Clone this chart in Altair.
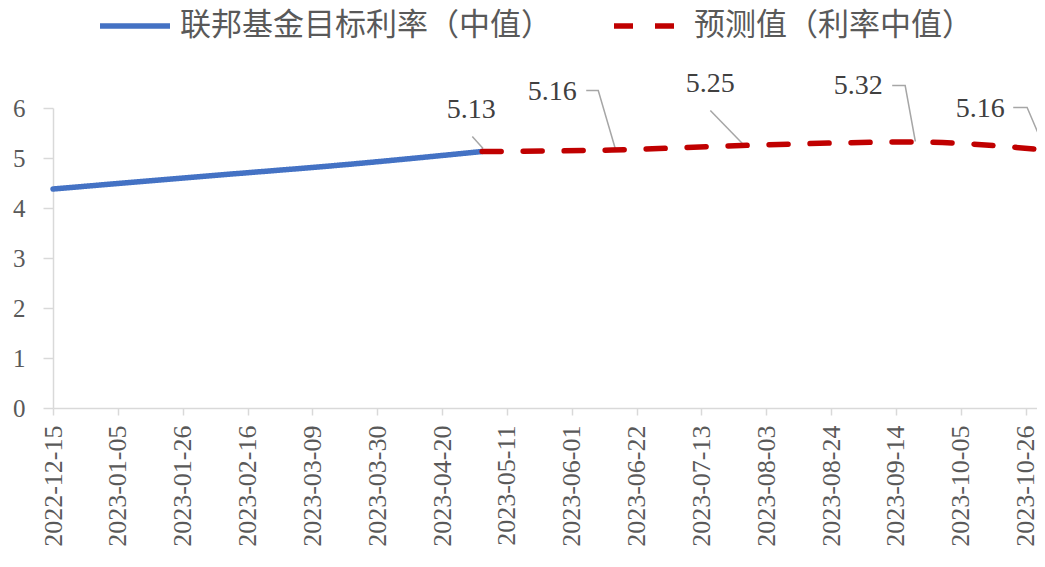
import altair as alt
import pandas as pd

# ---------------- data ----------------
series_names = ["联邦基金目标利率（中值）", "预测值（利率中值）"]

actual_dates = ["2022-12-15", "2023-02-01", "2023-03-22", "2023-05-03"]
actual_vals = [4.38, 4.63, 4.88, 5.13]

forecast_dates = ["2023-05-03", "2023-06-14", "2023-07-26", "2023-09-20", "2023-11-01"]
forecast_vals = [5.13, 5.16, 5.25, 5.32, 5.16]

tick_dates = ["2022-12-15", "2023-01-05", "2023-01-26", "2023-02-16", "2023-03-09",
              "2023-03-30", "2023-04-20", "2023-05-11", "2023-06-01", "2023-06-22",
              "2023-07-13", "2023-08-03", "2023-08-24", "2023-09-14", "2023-10-05",
              "2023-10-26"]
y_ticks = [0, 1, 2, 3, 4, 5, 6]
x_start = "2022-12-15"
x_span_days = 318.7   # visible part of the axis (the chart is cut at the right edge)

label_texts = ["5.13", "5.16", "5.25", "5.32", "5.16"]

# annotation anchors (days after x_start, value)
label_days = [135.5, 161.7, 212.9, 260.8, 300.3]
label_vals = [5.97, 6.33, 6.49, 6.45, 5.99]
leader_paths = [
    [(135.8, 5.43), (139.3, 5.19)],
    [(172.7, 6.35), (176.6, 6.35), (182.1, 5.19)],
    [(212.9, 5.95), (223.6, 5.27)],
    [(271.8, 6.45), (276.0, 6.45), (279.3, 5.33)],
    [(311.0, 6.01), (315.5, 6.01), (321.3, 5.17)],
]

# ---------------- helpers ----------------
DAY = 86400000


def ms(s):
    return int(pd.Timestamp(s, tz="UTC").timestamp() * 1000)


base = ms(x_start)

rows = []
for i, (d, v) in enumerate(zip(actual_dates, actual_vals)):
    rows.append({"t": ms(d), "v": v, "s": series_names[0], "o": i})
for i, (d, v) in enumerate(zip(forecast_dates, forecast_vals)):
    rows.append({"t": ms(d), "v": v, "s": series_names[1], "o": i})
line_df = pd.DataFrame(rows)

lab_df = pd.DataFrame({
    "t": [base + d * DAY for d in label_days],
    "v": label_vals,
    "txt": label_texts,
})

lead_rows = []
for g, path in enumerate(leader_paths):
    for o, (d, v) in enumerate(path):
        lead_rows.append({"t": base + d * DAY, "v": v, "g": g, "o": o})
lead_df = pd.DataFrame(lead_rows)

# ---------------- encodings ----------------
x_enc = alt.X(
    "t:T",
    title=None,
    scale=alt.Scale(type="utc", domain=[base, base + x_span_days * DAY]),
    axis=alt.Axis(
        values=[ms(d) for d in tick_dates],
        format="%Y-%m-%d",
        labelAngle=270,
        labelFontSize=26,
        labelPadding=10,
        tickSize=7,
        grid=False,
        labelOverlap=False,
    ),
)
y_enc = alt.Y(
    "v:Q",
    title=None,
    scale=alt.Scale(domain=[0, 6], nice=False, zero=True),
    axis=alt.Axis(
        values=y_ticks,
        labelFontSize=25,
        labelPadding=18,
        tickSize=10,
        grid=False,
    ),
)

legend = alt.Legend(
    title=None,
    orient="none",
    legendX=44,
    legendY=-120,
    direction="horizontal",
    symbolType="stroke",
    symbolSize=4900,
    symbolStrokeWidth=5.5,
    labelFont="Noto Sans CJK SC",
    labelFontSize=31,
    labelColor="#595959",
    labelOffset=7,
    labelLimit=600,
    columnPadding=51,
)

color_scale = alt.Scale(domain=series_names, range=["#4472C4", "#C00000"])
dash_scale = alt.Scale(domain=series_names, range=[[1, 0], [19, 22]])

leaders = alt.Chart(lead_df).mark_line(color="#a6a6a6", strokeWidth=1.5).encode(
    x="t:T", y="v:Q", detail="g:N", order="o:Q"
)

lines = alt.Chart(line_df).mark_line(
    strokeWidth=5.5, strokeCap="round", interpolate="monotone"
).encode(
    x=x_enc,
    y=y_enc,
    color=alt.Color("s:N", scale=color_scale, legend=legend),
    strokeDash=alt.StrokeDash("s:N", scale=dash_scale, legend=legend),
    detail="s:N",
    order="o:Q",
)

labels = alt.Chart(lab_df).mark_text(
    font="Liberation Serif", fontSize=28, color="#404040",
    align="center", baseline="middle"
).encode(x="t:T", y="v:Q", text="txt:N")

chart = alt.layer(leaders, lines, labels).properties(
    width=984,
    height=300,
    padding={"left": 45, "top": 100, "right": 0, "bottom": 145},
    autosize=alt.AutoSizeParams(type="none"),
).configure_view(stroke=None).configure_axis(
    domainColor="#d9d9d9",
    tickColor="#d9d9d9",
    domainWidth=1.5,
    tickWidth=1.5,
    labelColor="#595959",
    labelFont="Liberation Serif",
)

chart.save("out.html", embed_options={"renderer": "svg", "actions": False})
